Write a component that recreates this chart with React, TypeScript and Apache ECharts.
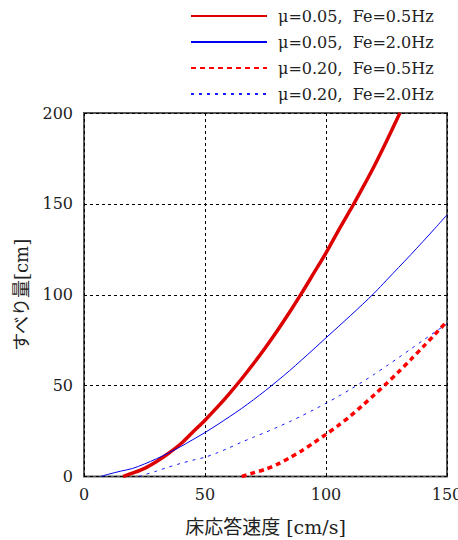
import React, { useEffect, useRef } from "react";
import * as echarts from "echarts";

// Floor response velocity [cm/s] vs. sliding displacement [cm]
const seriesNames = [
  "μ=0.05,  Fe=0.5Hz",
  "μ=0.05,  Fe=2.0Hz",
  "μ=0.20,  Fe=0.5Hz",
  "μ=0.20,  Fe=2.0Hz",
];

// μ=0.05, Fe=0.5Hz
const mu005f05X = [16.2, 20, 25, 30, 35, 40, 45, 50, 55, 60, 65, 70, 75, 80, 85, 90, 95, 100, 105, 110, 115, 120, 125, 130, 130.6];
const mu005f05Y = [0, 1.8, 4.5, 8.3, 12.8, 18, 24.5, 31, 38, 45.5, 53.5, 62, 71, 80.5, 90.5, 101, 112, 123, 135, 146.5, 158.5, 171, 184.5, 198.5, 200];

// μ=0.05, Fe=2.0Hz
const mu005f20X = [6.9, 10, 15, 20, 25, 30, 35, 40, 45, 50, 55, 60, 65, 70, 75, 80, 85, 90, 95, 100, 105, 110, 115, 120, 125, 130, 135, 140, 145, 150];
const mu005f20Y = [0, 1.2, 2.9, 4.4, 6.9, 9.8, 13, 16.5, 20.3, 24.2, 28.4, 32.8, 37.3, 42.2, 47.3, 52.7, 58.3, 64.2, 70.2, 76.3, 82.3, 88.4, 94.6, 101, 108, 115, 122, 129.2, 136.5, 144];

// μ=0.20, Fe=0.5Hz
const mu020f05X = [65.2, 70, 75, 80, 85, 90, 95, 100, 105, 110, 115, 120, 125, 130, 135, 140, 145, 150];
const mu020f05Y = [0, 2, 4, 6.8, 10.3, 14.2, 18.6, 23.2, 28, 33.2, 39, 45, 51.2, 57.6, 64.3, 71.2, 78.2, 85.4];

// μ=0.20, Fe=2.0Hz
const mu020f20X = [22.7, 30, 35, 40, 45, 50, 55, 60, 65, 70, 75, 80, 85, 90, 95, 100, 105, 110, 115, 120, 125, 130, 135, 140, 145, 150];
const mu020f20Y = [0, 3, 5.2, 7.2, 9, 10.6, 13, 15.8, 18.8, 21.6, 24.3, 27.2, 30.2, 33.4, 36.8, 40.3, 44, 47.9, 52, 56.3, 60.8, 65.4, 70.1, 74.8, 79.5, 84];

const xTicks = { min: 0, max: 150, interval: 50 };
const yTicks = { min: 0, max: 200, interval: 50 };

const zip = (xs: number[], ys: number[]) => xs.map((x, i) => [x, ys[i]]);

const serifFont = "'DejaVu Serif', 'Noto Sans CJK JP', serif";

export default function App() {
  const ref = useRef<HTMLDivElement>(null);

  useEffect(() => {
    if (!ref.current) return;
    const chart = echarts.init(ref.current, undefined, { renderer: "svg" });

    const lineSeries = (
      name: string,
      data: number[][],
      color: string,
      width: number,
      type: any
    ) => ({
      name,
      type: "line",
      data,
      smooth: 0.3,
      showSymbol: false,
      symbol: "none",
      clip: true,
      lineStyle: { color, width, type, cap: "butt" },
      itemStyle: { color },
    });

    chart.setOption({
      animation: false,
      backgroundColor: "#ffffff",
      grid: {
        left: 84,
        right: 11,
        top: 113,
        bottom: 63.5,
        outerBoundsMode: "none",
        containLabel: false,
        show: true,
        borderColor: "#555555",
        borderWidth: 2,
      },
      legend: {
        orient: "vertical",
        left: 190,
        top: 8,
        padding: 0,
        itemWidth: 76,
        itemHeight: 14,
        itemGap: 10,
        data: seriesNames,
        itemStyle: { opacity: 0 },
        textStyle: {
          fontFamily: serifFont,
          fontSize: 16,
          color: "#222222",
          padding: [0, 0, 0, 6],
        },
      },
      xAxis: {
        type: "value",
        ...xTicks,
        name: "床応答速度 [cm/s]",
        nameLocation: "middle",
        nameGap: 41,
        nameTextStyle: { fontFamily: serifFont, fontSize: 19, color: "#222222" },
        axisLine: { show: false },
        axisTick: { show: false },
        axisLabel: { fontFamily: serifFont, fontSize: 16, color: "#222222", margin: 10 },
        splitLine: {
          show: true,
          lineStyle: { color: "#000000", type: [3, 3], width: 1 },
        },
      },
      yAxis: {
        type: "value",
        ...yTicks,
        name: "すべり量[cm]",
        nameLocation: "middle",
        nameGap: 54,
        nameTextStyle: { fontFamily: serifFont, fontSize: 18, color: "#222222" },
        axisLine: { show: false },
        axisTick: { show: false },
        axisLabel: { fontFamily: serifFont, fontSize: 16, color: "#222222", margin: 11 },
        splitLine: {
          show: true,
          lineStyle: { color: "#000000", type: [3, 3], width: 1 },
        },
      },
      series: [
        lineSeries(seriesNames[0], zip(mu005f05X, mu005f05Y), "#dd0000", 3.5, "solid"),
        lineSeries(seriesNames[1], zip(mu005f20X, mu005f20Y), "#0000ee", 1, "solid"),
        lineSeries(seriesNames[2], zip(mu020f05X, mu020f05Y), "#ff0000", 3.5, [5, 4]),
        lineSeries(seriesNames[3], zip(mu020f20X, mu020f20Y), "#1a1aff", 1, [3, 5]),
      ],
    });

    return () => chart.dispose();
  }, []);

  return (
    <div
      ref={ref}
      style={{ position: "absolute", left: 0, top: 0, width: 458, height: 540 }}
    />
  );
}
